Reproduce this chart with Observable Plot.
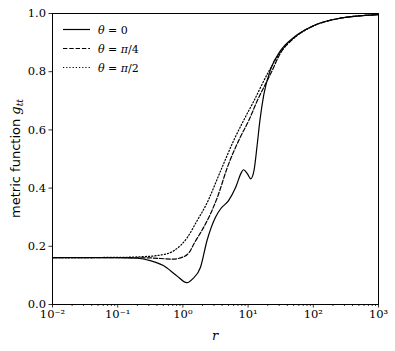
<!DOCTYPE html>
<html><head><meta charset="utf-8">
<script src="https://cdn.jsdelivr.net/npm/d3@7"></script>
<script src="https://cdn.jsdelivr.net/npm/@observablehq/plot@0.6"></script>
<style>body{margin:0;background:white}</style>
</head><body><div id="chart"></div>
<script>
// log10(r) sample positions and g_tt values
const logR0 = [-2, -1, -0.7, -0.5, -0.3, -0.1, 0.06, 0.15, 0.27, 0.37, 0.5, 0.58, 0.7, 0.81, 0.9, 0.93, 0.99, 1.04, 1.09, 1.14, 1.18, 1.24, 1.34, 1.5, 1.7, 2.0, 2.37, 3.0];
const g0    = [0.161, 0.161, 0.159, 0.151, 0.134, 0.100, 0.075, 0.088, 0.128, 0.22, 0.30, 0.329, 0.357, 0.403, 0.455, 0.463, 0.449, 0.432, 0.46, 0.55, 0.63, 0.72, 0.805, 0.873, 0.918, 0.958, 0.982, 0.996];
const logR1 = [-2, -1, -0.5, -0.15, 0.0, 0.1, 0.17, 0.32, 0.42, 0.53, 0.68, 0.88, 1.01, 1.14, 1.34, 1.5, 1.7, 2.0, 2.37, 3.0];
const g1    = [0.161, 0.161, 0.160, 0.156, 0.163, 0.18, 0.209, 0.266, 0.31, 0.369, 0.47, 0.575, 0.632, 0.70, 0.79, 0.865, 0.915, 0.957, 0.982, 0.996];
const logR2 = [-2, -1, -0.65, -0.34, -0.13, 0.07, 0.22, 0.35, 0.58, 0.78, 0.93, 1.09, 1.29, 1.5, 1.7, 2.0, 2.37, 3.0];
const g2    = [0.161, 0.162, 0.164, 0.170, 0.186, 0.231, 0.289, 0.34, 0.46, 0.564, 0.632, 0.70, 0.79, 0.868, 0.915, 0.957, 0.982, 0.996];
const seriesAngles = ["0", "π/4", "π/2"];
const xMajor = [1e-2, 1e-1, 1e0, 1e1, 1e2, 1e3];
const yTicks = [0, 0.2, 0.4, 0.6, 0.8, 1.0];

const dashes = [null, "4.4,1.9", "1.2,2"];
const toRows = (lr, g, s) => lr.map((l, i) => ({r: Math.pow(10, l), g: g[i], s}));
const rows = [toRows(logR0, g0, 0), toRows(logR1, g1, 1), toRows(logR2, g2, 2)];

const minors = [];
for (let e = -2; e < 3; e++) for (let k = 2; k <= 9; k++) minors.push(k * Math.pow(10, e));
const supMap = {"-":"⁻","0":"⁰","1":"¹","2":"²","3":"³"};
const sup = d => "10" + String(Math.round(Math.log10(d))).split("").map(c => supMap[c]).join("");

const chart = Plot.plot({
  width: 395, height: 351,
  marginLeft: 52, marginRight: 17, marginTop: 13, marginBottom: 47,
  x: {type: "log", domain: [1e-2, 1e3]},
  y: {domain: [0, 1]},
  style: {fontFamily: "DejaVu Serif", fontSize: "11.5px", color: "black", background: "white"},
  marks: [
    Plot.axisX({ticks: minors, tickSize: 2, tickFormat: () => "", label: null, strokeWidth: 0.8}),
    Plot.axisX({ticks: xMajor, tickSize: 3.5, tickPadding: 2, tickFormat: sup, label: null, strokeWidth: 0.8}),
    Plot.axisY({ticks: yTicks, tickSize: 3.5, tickPadding: 3, tickFormat: d3.format(".1f"), label: null, strokeWidth: 0.8}),
    ...rows.map((d, i) => Plot.line(d, {x: "r", y: "g", stroke: "black", strokeWidth: 1.2, curve: "monotone-x", strokeDasharray: dashes[i]})),
    Plot.frame({stroke: "black", strokeWidth: 1})
  ]
});
document.getElementById("chart").appendChild(chart);

const svg = d3.select(chart);
// axis titles
svg.append("text").attr("x", 215).attr("y", 340).attr("text-anchor", "middle")
  .attr("font-family", "DejaVu Serif").attr("font-style", "italic").attr("font-size", 13).text("r");
const yl = svg.append("text").attr("transform", "translate(20,158.5) rotate(-90)").attr("text-anchor", "middle")
  .attr("font-size", 13);
yl.append("tspan").attr("font-family", "DejaVu Sans").text("metric function ");
yl.append("tspan").attr("font-family", "DejaVu Serif").attr("font-style", "italic").text("g");
yl.append("tspan").attr("font-family", "DejaVu Serif").attr("font-style", "italic").attr("font-size", 9).attr("dy", 3).text("tt");

// legend
const lg = svg.append("g");
seriesAngles.forEach((a, i) => {
  const y = 29.5 + i * 19;
  lg.append("line").attr("x1", 63).attr("x2", 90).attr("y1", y).attr("y2", y)
    .attr("stroke", "black").attr("stroke-width", 1.2).attr("stroke-dasharray", dashes[i]);
  const t = lg.append("text").attr("x", 98).attr("y", y + 4).attr("text-anchor", "start")
    .attr("font-family", "DejaVu Serif").attr("font-size", 11);
  t.append("tspan").attr("font-style", "italic").text("θ");
  t.append("tspan").text(" = ");
  if (a.startsWith("π")) {
    t.append("tspan").attr("font-style", "italic").text("π");
    t.append("tspan").text(a.slice(1));
  } else t.append("tspan").text(a);
});
</script></body></html>
